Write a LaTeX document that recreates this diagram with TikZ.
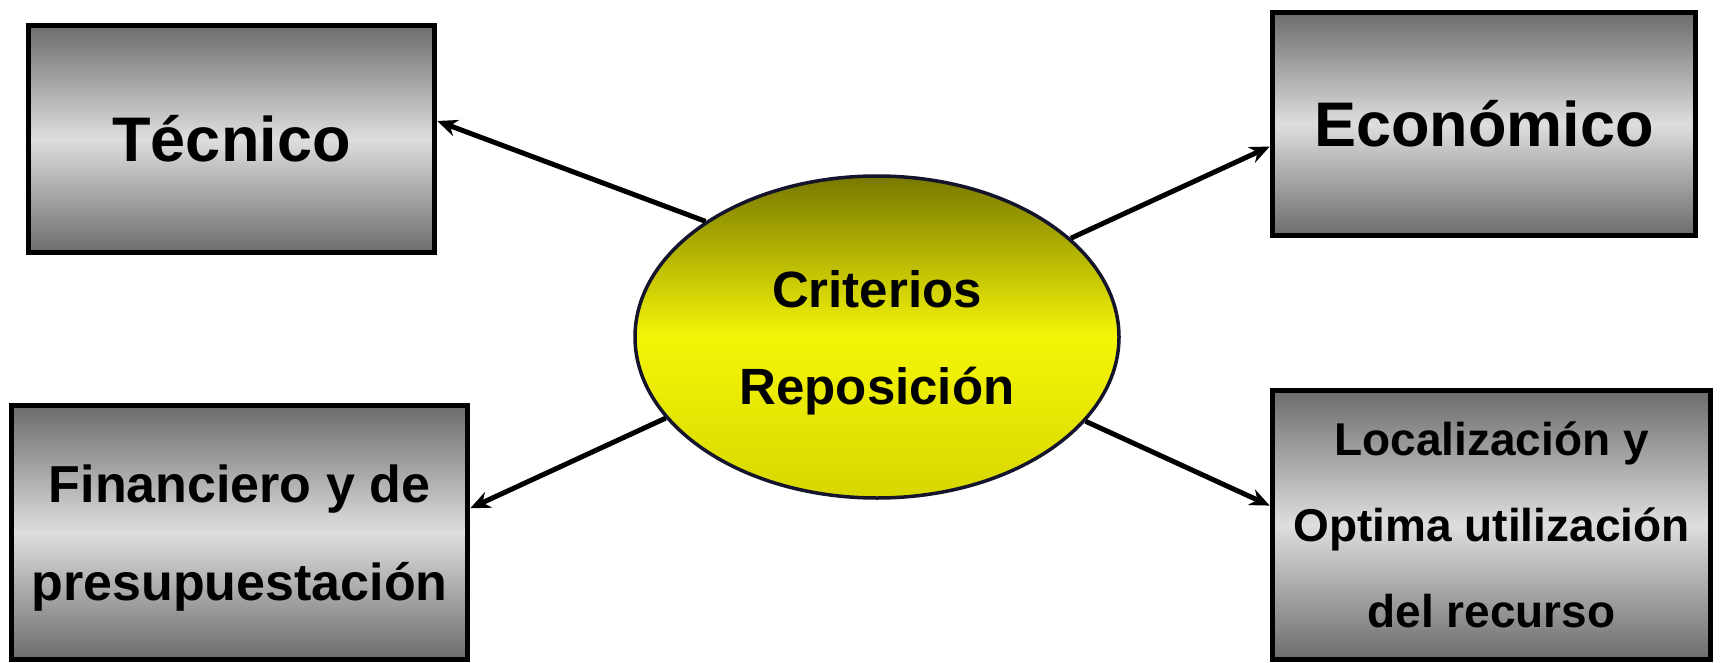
\documentclass[tikz,border=0pt]{standalone}
\usepackage{fontspec}
\setmainfont{Liberation Sans}
\usetikzlibrary{arrows.meta,shapes.geometric}

\definecolor{grisosc}{RGB}{108,108,108}
\definecolor{grisclaro}{RGB}{222,222,222}
\definecolor{oliva}{RGB}{120,120,0}
\definecolor{amarillo}{RGB}{245,245,8}
\definecolor{amarillob}{RGB}{215,215,0}
\definecolor{borde}{RGB}{20,20,45}

\tikzset{
	caja/.style={draw=black, line width=5.5pt, align=center, inner sep=0pt,
		top color=grisosc, bottom color=grisosc, middle color=grisclaro},
	criterio/.style={ellipse, draw=borde, line width=3.5pt, align=center, inner sep=0pt,
		top color=oliva, bottom color=amarillob, middle color=amarillo},
	flecha/.style={line width=5pt, -{Stealth[length=20pt,width=17pt]}}
}

\begin{document}
\begin{tikzpicture}[x=1pt,y=-1pt,font=\bfseries]

	\useasboundingbox (0,0) rectangle (1721,663);

	% centro
	\node[criterio, minimum width=484pt, minimum height=322pt, text height=134pt, text depth=0pt,
		font=\fontsize{51}{97}\selectfont\bfseries] (crit) at (877,337) {Criterios\\Reposición};

	% cajas
	\node[caja, minimum width=406pt, minimum height=227pt, text height=45pt, text depth=0pt,
		font=\fontsize{63}{63}\selectfont\bfseries] (tec) at (231.5,139) {Técnico};
	\node[caja, minimum width=423pt, minimum height=223pt, text height=45pt, text depth=0pt,
		font=\fontsize{63}{63}\selectfont\bfseries] (eco) at (1484,124) {Económico};
	\node[caja, minimum width=456pt, minimum height=254pt, text height=135pt, text depth=0pt,
		font=\fontsize{52}{98}\selectfont\bfseries] (fin) at (239.5,532.5) {Financiero y de\\presupuestación};
	\node[caja, minimum width=438pt, minimum height=269pt, text height=205pt, text depth=0pt,
		font=\fontsize{46}{86}\selectfont\bfseries] (loc) at (1491.5,525) {Localización y\\Optima utilización\\del recurso};

	\foreach \a/\b in {146/tec.5, 27/eco.186, 201/fin.6, -22/loc.175}
		\draw[flecha] (crit.\a) -- (\b);

\end{tikzpicture}
\end{document}
